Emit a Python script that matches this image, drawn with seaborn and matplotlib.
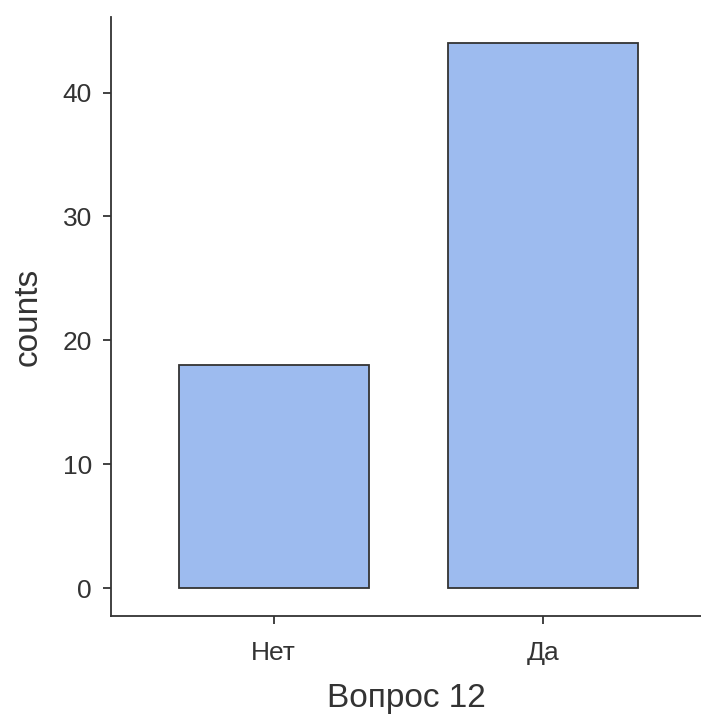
import matplotlib
matplotlib.use("Agg")
import matplotlib.pyplot as plt
import seaborn as sns
import pandas as pd

# Datos
categorias = ["Нет", "Да"]
conteos = [18, 44]
yticks = [0, 10, 20, 30, 40]

sns.set_theme(style="ticks")
plt.rcParams["font.family"] = ["Liberation Sans", "DejaVu Sans"]

df = pd.DataFrame({"Вопрос 12": categorias, "counts": conteos})

fig = plt.figure(figsize=(7.01, 7.17), dpi=100)
ax = fig.add_axes([111 / 701, 101 / 717, 590 / 701, 599 / 717])

sns.barplot(data=df, x="Вопрос 12", y="counts", order=categorias,
            color="#9dbbef", saturation=1, width=0.705,
            edgecolor="#333333", linewidth=1.3, ax=ax)

ax.set_xlim(-0.603, 1.586)
ax.set_ylim(-2.26, 46.1)
ax.set_yticks(yticks)

for lado in ["top", "right"]:
    ax.spines[lado].set_visible(False)
for lado in ["left", "bottom"]:
    ax.spines[lado].set_color("#333333")
    ax.spines[lado].set_linewidth(1.3)

ax.tick_params(axis="both", length=5.8, width=1.3, color="#333333",
               labelsize=19, labelcolor="#333333")
ax.tick_params(axis="x", pad=12.5)
ax.tick_params(axis="y", pad=8)
ax.set_xlabel("Вопрос 12", fontsize=24, color="#333333", labelpad=13)
ax.set_ylabel("counts", fontsize=24, color="#333333", labelpad=13.5)

fig.savefig("out.png", dpi=100)
